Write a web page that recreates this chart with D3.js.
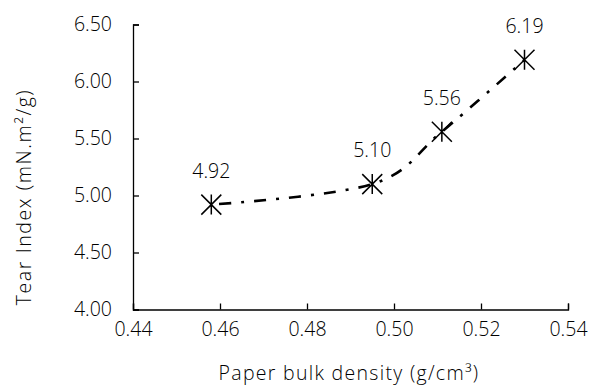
<!DOCTYPE html>
<html><head><meta charset="utf-8">
<script src="https://cdn.jsdelivr.net/npm/d3@7"></script>
<style>
body{margin:0;background:#fff;}
text{font-family:"Open Sans", Lato, sans-serif;font-weight:300;fill:#000;}
</style></head>
<body><svg id="c" width="599" height="387"></svg>
<script>
const density = [0.458, 0.495, 0.511, 0.530];
const tearIndex = [4.92, 5.10, 5.56, 6.19];
const pointLabels = ["4.92", "5.10", "5.56", "6.19"];
const xTicks = [0.44, 0.46, 0.48, 0.50, 0.52, 0.54];
const yTicks = [4.00, 4.50, 5.00, 5.50, 6.00, 6.50];
const xTitle = "Paper bulk density (g/cm³)";
const yTitle = "Tear Index (mN.m²/g)";

const svg = d3.select("#c");
const x = d3.scaleLinear().domain([0.44, 0.54]).range([133, 568]);
const y = d3.scaleLinear().domain([4.0, 6.5]).range([309.5, 24.5]);
const fs = 19.5;
const ff = "'Open Sans', Lato, sans-serif";

const gx = svg.append("g").attr("transform", `translate(0,${y(4.0)})`)
  .call(d3.axisBottom(x).tickValues(xTicks).tickFormat(d3.format(".2f")).tickSizeInner(-6).tickSizeOuter(-6).tickPadding(13));
const gy = svg.append("g").attr("transform", `translate(${x(0.44)},0)`)
  .call(d3.axisLeft(y).tickValues(yTicks).tickFormat(d3.format(".2f")).tickSizeInner(-6).tickSizeOuter(-6).tickPadding(21));
[gx, gy].forEach(g => {
  g.selectAll("path,line").attr("stroke", "#000").attr("stroke-width", 1.3);
  g.selectAll("text").attr("font-size", fs).attr("font-family", ff).attr("font-weight", 300).attr("fill", "#000");
});
gx.selectAll("text").attr("dy", "0.71em");

const pts = density.map((d, i) => [x(d), y(tearIndex[i])]);
svg.append("path")
  .attr("d", d3.line().curve(d3.curveCatmullRom.alpha(0))(pts))
  .attr("fill", "none").attr("stroke", "#000").attr("stroke-width", 2.6)
  .attr("stroke-dasharray", "12 10 3 10").attr("stroke-dashoffset", -8);

const r = 10;
const m = svg.append("g").selectAll("g").data(pts).join("g")
  .attr("transform", d => `translate(${d[0]},${d[1]})`);
m.append("path")
  .attr("d", `M${-r},${-r}L${r},${r}M${-r},${r}L${r},${-r}M0,${-r}L0,${r}`)
  .attr("stroke", "#000").attr("stroke-width", 1.5).attr("fill", "none");

svg.append("g").selectAll("text").data(pts).join("text")
  .attr("x", d => d[0]).attr("y", d => d[1] - 27)
  .attr("text-anchor", "middle").attr("font-size", fs)
  .text((d, i) => pointLabels[i]);

svg.append("text").attr("x", 349).attr("y", 380).attr("text-anchor", "middle")
  .attr("font-size", fs).attr("letter-spacing", 1.3).text(xTitle);
svg.append("text").attr("transform", "translate(31,197) rotate(-90)")
  .attr("text-anchor", "middle").attr("font-size", fs).attr("letter-spacing", 1.6).text(yTitle);
</script></body></html>
